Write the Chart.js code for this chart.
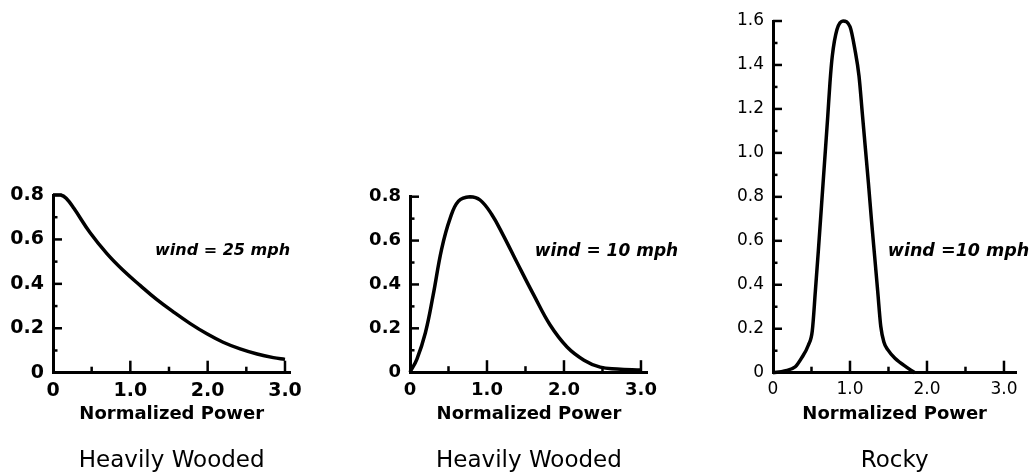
<!DOCTYPE html>
<html><head><meta charset="utf-8">
<script src="https://cdn.jsdelivr.net/npm/chart.js@4"></script>
<style>
html,body{margin:0;padding:0;background:#fff;width:1036px;height:475px;overflow:hidden}
canvas{position:absolute;top:0}
</style></head><body>
<canvas id="c1" width="340" height="475" style="left:0px"></canvas>
<canvas id="c2" width="340" height="475" style="left:340px"></canvas>
<canvas id="c3" width="356" height="475" style="left:680px"></canvas>
<script>
// ---------- data ----------
const P1_X = [0, 0.1, 0.17, 0.27, 0.48, 0.7, 0.91, 1.13, 1.34, 1.56, 1.77, 1.99, 2.2, 2.42, 2.64, 2.85, 3.0];
const P1_Y = [0.8, 0.8, 0.785, 0.74, 0.63, 0.535, 0.46, 0.392, 0.33, 0.273, 0.222, 0.175, 0.137, 0.107, 0.084, 0.068, 0.06];

const P2_X = [0, 0.09, 0.2, 0.3, 0.41, 0.52, 0.63, 0.78, 0.91, 1.06, 1.21, 1.39, 1.61, 1.82, 2.04, 2.26, 2.47, 2.69, 3.0];
const P2_Y = [0, 0.06, 0.18, 0.35, 0.56, 0.70, 0.78, 0.80, 0.785, 0.72, 0.625, 0.50, 0.35, 0.215, 0.115, 0.055, 0.023, 0.015, 0.01];

const P3_X = [0, 0.15, 0.29, 0.37, 0.46, 0.51, 0.55, 0.59, 0.63, 0.67, 0.71, 0.74, 0.77, 0.83, 0.91, 1.0, 1.065, 1.117, 1.16, 1.2, 1.24, 1.28, 1.32, 1.36, 1.4, 1.44, 1.49, 1.584, 1.757, 1.84];
const P3_Y = [0, 0.008, 0.027, 0.066, 0.126, 0.19, 0.37, 0.56, 0.76, 0.96, 1.16, 1.32, 1.44, 1.56, 1.60, 1.574, 1.468, 1.35, 1.18, 1.02, 0.86, 0.69, 0.53, 0.37, 0.21, 0.14, 0.105, 0.066, 0.02, 0];

const X_TICK_VALUES = [0, 0.5, 1.0, 1.5, 2.0, 2.5, 3.0];
const X_TICK_LABELS = ['0', '', '1.0', '', '2.0', '', '3.0'];

const Y08_TICK_VALUES = [0, 0.1, 0.2, 0.3, 0.4, 0.5, 0.6, 0.7, 0.8];
const Y08_TICK_LABELS = ['0', '', '0.2', '', '0.4', '', '0.6', '', '0.8'];

const Y16_TICK_VALUES = [0, 0.1, 0.2, 0.3, 0.4, 0.5, 0.6, 0.7, 0.8, 0.9, 1.0, 1.1, 1.2, 1.3, 1.4, 1.5, 1.6];
const Y16_TICK_LABELS = ['0', '', '0.2', '', '0.4', '', '0.6', '', '0.8', '', '1.0', '', '1.2', '', '1.4', '', '1.6'];

const X_TITLE = 'Normalized Power';
const PANEL_TITLES = ['Heavily Wooded', 'Heavily Wooded', 'Rocky'];
const WIND_TEXTS = ['wind = 25 mph', 'wind = 10 mph', 'wind =10 mph'];
const WIND_AT_X = [1.32, 1.62, 1.49];
const WIND_AT_Y = [0.55, 0.55, 0.55];

// ---------- layout / style ----------
const FAMILY = 'DejaVu Sans';
const LAYOUT = [
  {id: 'c1', yWidth: 53, padTop: 195, padRight: 49.6, xMax: 3.07, bottom: 372.7, yMax: 0.8, windSize: 16,
   tension: 0.4, mono: false,
   tickFont: {family: FAMILY, size: 19, weight: 'bold'}, yVals: Y08_TICK_VALUES, yLabs: Y08_TICK_LABELS},
  {id: 'c2', yWidth: 70, padTop: 196.7, padRight: 32.1, xMax: 3.09, bottom: 372.2, yMax: 0.8, windSize: 17,
   tension: 0.4, mono: false,
   tickFont: {family: FAMILY, size: 18, weight: 'bold'}, yVals: Y08_TICK_VALUES, yLabs: Y08_TICK_LABELS},
  {id: 'c3', yWidth: 93, padTop: 21, padRight: 19.7, xMax: 3.16, bottom: 372.7, yMax: 1.6, windSize: 17.5,
   tension: 0.4, mono: true,
   tickFont: {family: FAMILY, size: 17, weight: 'normal'}, yVals: Y16_TICK_VALUES, yLabs: Y16_TICK_LABELS}
];
const SERIES = [[P1_X, P1_Y], [P2_X, P2_Y], [P3_X, P3_Y]];
const TITLE_SIZE = 23, TITLE_LH = 1.2, TITLE_PAD = 14, CANVAS_H = 475;

const innerTicks = {
  id: 'innerTicks',
  afterDraw(chart, args, o) {
    const {ctx, chartArea} = chart;
    const xs = chart.scales.x, ys = chart.scales.y;
    ctx.save();
    ctx.strokeStyle = '#000';
    ctx.lineWidth = 2.5;
    ctx.lineCap = 'butt';
    o.xVals.forEach((v, i) => {
      if (v === 0) return;
      const px = xs.getPixelForValue(v);
      const len = o.xLabs[i] ? 12 : 6;
      ctx.beginPath(); ctx.moveTo(px, chartArea.bottom); ctx.lineTo(px, chartArea.bottom - len); ctx.stroke();
    });
    o.yVals.forEach((v, i) => {
      if (v === 0) return;
      const py = ys.getPixelForValue(v);
      const len = o.yLabs[i] ? 9 : 4.5;
      ctx.beginPath(); ctx.moveTo(chartArea.left, py); ctx.lineTo(chartArea.left + len, py); ctx.stroke();
    });
    ctx.font = 'italic bold ' + o.size + 'px "' + FAMILY + '"';
    ctx.fillStyle = '#000';
    ctx.textAlign = 'left';
    ctx.textBaseline = 'middle';
    ctx.fillText(o.text, xs.getPixelForValue(o.tx), ys.getPixelForValue(o.ty));
    ctx.restore();
  }
};

LAYOUT.forEach((L, k) => {
  const [xs, ys] = SERIES[k];
  const xH = CANVAS_H - TITLE_SIZE * TITLE_LH - TITLE_PAD - L.bottom;
  new Chart(document.getElementById(L.id), {
    type: 'line',
    data: {
      datasets: [{
        data: xs.map((x, i) => ({x: x, y: ys[i]})),
        borderColor: '#000',
        borderWidth: 3.5,
        pointRadius: 0,
        fill: false,
        tension: L.tension,
        cubicInterpolationMode: L.mono ? 'monotone' : 'default',
        borderJoinStyle: 'round',
        clip: 10
      }]
    },
    options: {
      responsive: false,
      animation: false,
      devicePixelRatio: 1,
      layout: {padding: {top: L.padTop, right: L.padRight, left: 0, bottom: 0}},
      plugins: {
        legend: {display: false},
        tooltip: {enabled: false},
        title: {
          display: true, text: PANEL_TITLES[k], position: 'bottom', fullSize: false,
          color: '#000', font: {family: FAMILY, size: TITLE_SIZE, weight: 'normal', lineHeight: TITLE_LH},
          padding: {top: TITLE_PAD, bottom: 0}
        },
        innerTicks: {xVals: X_TICK_VALUES, xLabs: X_TICK_LABELS, yVals: L.yVals, yLabs: L.yLabs,
                     text: WIND_TEXTS[k], tx: WIND_AT_X[k], ty: WIND_AT_Y[k], size: L.windSize}
      },
      scales: {
        x: {
          type: 'linear', min: 0, max: L.xMax,
          afterBuildTicks: s => { s.ticks = X_TICK_VALUES.map(v => ({value: v})); },
          afterFit: s => { s.height = xH; },
          ticks: {callback: (v, i) => X_TICK_LABELS[i], autoSkip: false, maxRotation: 0, padding: 7,
                  color: '#000', font: L.tickFont},
          grid: {display: true, drawOnChartArea: false, drawTicks: false, color: 'rgba(0,0,0,0)'},
          border: {display: true, color: '#000', width: 3},
          title: {display: true, text: X_TITLE, color: '#000',
                  font: {family: FAMILY, size: 18, weight: 'bold', lineHeight: 1.2},
                  padding: {top: 0, bottom: 8}}
        },
        y: {
          type: 'linear', min: 0, max: L.yMax,
          afterBuildTicks: s => { s.ticks = L.yVals.map(v => ({value: v})); },
          afterFit: s => { s.width = L.yWidth; },
          ticks: {callback: (v, i) => L.yLabs[i], autoSkip: false, padding: 9,
                  color: '#000', font: L.tickFont},
          grid: {display: true, drawOnChartArea: false, drawTicks: false, color: 'rgba(0,0,0,0)'},
          border: {display: true, color: '#000', width: 3}
        }
      }
    },
    plugins: [innerTicks]
  });
});
</script>
</body></html>
